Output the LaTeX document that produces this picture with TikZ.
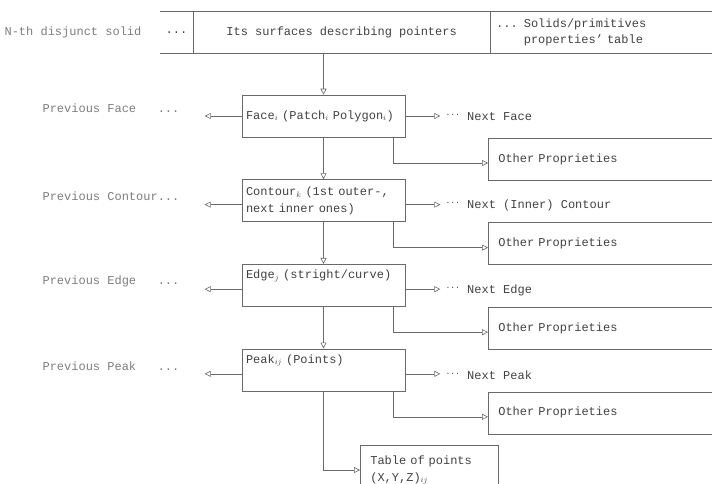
\documentclass[tikz,border=0pt]{standalone}
\usepackage{fontspec}
\setmainfont{Liberation Mono}
\usetikzlibrary{arrows.meta,positioning}
\definecolor{lineColor}{RGB}{105,105,105}
\definecolor{textColor}{RGB}{65,65,65}
\definecolor{sideColor}{RGB}{125,125,125}
\tikzset{cell/.style={draw=none, text=textColor, minimum height=41pt, inner sep=0pt, font=\fontsize{12}{16}\selectfont}}
\tikzset{pointerBox/.style={draw=lineColor, line width=.6pt, text=textColor, align=left, text width=155pt, inner xsep=4pt, minimum height=42pt, font=\fontsize{12}{17}\selectfont}}
\tikzset{otherBox/.style={pointerBox, text width=222pt, inner xsep=10pt, anchor=west}}
\tikzset{sideText/.style={text=sideColor, inner sep=0pt, font=\fontsize{12}{16}\selectfont}}
\tikzset{nextText/.style={sideText, text=textColor}}
\newcommand{\upDots}{\raisebox{5pt}{\fontsize{8}{8}\selectfont ...}}

\begin{document}
\begin{tikzpicture}[x=1pt, y=-1pt, node distance=42pt and 35pt, line width=.6pt, draw=lineColor, >={Triangle[open,length=6pt,width=6pt]}]
% Nodes
\clip (0,0) rectangle (712,484);

\node (SolidDots) [cell, minimum width=33pt] at (176.5,32.5) {...};
\node (Surfaces) [cell, minimum width=296pt, right=0pt of SolidDots] {Its surfaces describing pointers};
\node (SolidsTable) [cell, minimum width=240pt, text width=228pt, inner xsep=6pt, align=left, right=0pt of Surfaces] {... Solids/primitives\\\phantom{... }properties' table};
\node (DisjunctSolid) [sideText, left=18pt of SolidDots] {N-th disjunct solid};

\node (Face) [pointerBox] at (323.5,116) {\mbox{Face$_i$ (Patch$_i$ Polygon$_i$)}};
\node (Contour) [pointerBox, below=of Face] {Contour$_k$ (1st outer-,\\next inner ones)};
\node (Edge) [pointerBox, below=of Contour] {Edge$_j$ (stright/curve)\\\strut};
\node (Peak) [pointerBox, below=of Edge] {Peak$_{ij}$ (Points)\\\strut};

\node (FaceOther) [otherBox] at (488,159) {Other Proprieties};
\node (ContourOther) [otherBox, below=of FaceOther] {Other Proprieties};
\node (EdgeOther) [otherBox, below=of ContourOther] {Other Proprieties};
\node (PeakOther) [otherBox, below=of EdgeOther] {Other Proprieties};

\node (Points) [otherBox, minimum width=138pt, text width=118pt, minimum height=50pt] at (360,470) {Table of points\\(X,Y,Z)$_{ij}$};

\coordinate [left=37pt of Face.west] (PrevFaceTip);
\coordinate [left=37pt of Contour.west, yshift=-4pt] (PrevContourTip);
\coordinate [left=37pt of Edge.west, yshift=-4pt] (PrevEdgeTip);
\coordinate [left=37pt of Peak.west, yshift=-4pt] (PrevPeakTip);
\coordinate [right=35pt of Face.east] (NextFaceTip);
\coordinate [right=35pt of Contour.east, yshift=-4pt] (NextContourTip);
\coordinate [right=35pt of Edge.east, yshift=-4pt] (NextEdgeTip);
\coordinate [right=35pt of Peak.east, yshift=-4pt] (NextPeakTip);

\node (PrevFace) [sideText, left=25pt of PrevFaceTip, yshift=8pt] {Previous Face\ \ \ ...};
\node (PrevContour) [sideText, left=25pt of PrevContourTip, yshift=8pt] {Previous Contour...};
\node (PrevEdge) [sideText, left=25pt of PrevEdgeTip, yshift=8pt] {Previous Edge\ \ \ ...};
\node (PrevPeak) [sideText, left=25pt of PrevPeakTip, yshift=8pt] {Previous Peak\ \ \ ...};

\node (NextFace) [nextText, right=5pt of NextFaceTip, yshift=-1pt] {\upDots\ Next Face};
\node (NextContour) [nextText, right=5pt of NextContourTip, yshift=-1pt] {\upDots\ Next (Inner) Contour};
\node (NextEdge) [nextText, right=5pt of NextEdgeTip, yshift=-1pt] {\upDots\ Next Edge};
\node (NextPeak) [nextText, right=5pt of NextPeakTip, yshift=-1pt] {\upDots\ Next Peak};

% Band
\draw (SolidDots.north west) -- (SolidsTable.north east) (SolidDots.south west) -- (SolidsTable.south east);
\draw (Surfaces.north west) -- (Surfaces.south west) (Surfaces.north east) -- (Surfaces.south east);

% Connectors
\begin{scope}[->]
\draw (Surfaces.south -| Face.north) -- (Face.north);
\draw (Face) -- (Contour);
\draw (Contour) -- (Edge);
\draw (Edge) -- (Peak);
\draw (Peak.south) |- (Points.west);

\draw (Face.west) -- (PrevFaceTip);
\draw (Contour.west |- PrevContourTip) -- (PrevContourTip);
\draw (Edge.west |- PrevEdgeTip) -- (PrevEdgeTip);
\draw (Peak.west |- PrevPeakTip) -- (PrevPeakTip);

\draw (Face.east) -- (NextFaceTip);
\draw (Contour.east |- NextContourTip) -- (NextContourTip);
\draw (Edge.east |- NextEdgeTip) -- (NextEdgeTip);
\draw (Peak.east |- NextPeakTip) -- (NextPeakTip);

\draw ([xshift=-12pt]Face.south east) |- ([yshift=-4pt]FaceOther.west);
\draw ([xshift=-12pt]Contour.south east) |- ([yshift=-4pt]ContourOther.west);
\draw ([xshift=-12pt]Edge.south east) |- ([yshift=-4pt]EdgeOther.west);
\draw ([xshift=-12pt]Peak.south east) |- ([yshift=-4pt]PeakOther.west);
\end{scope}

\end{tikzpicture}
\end{document}
